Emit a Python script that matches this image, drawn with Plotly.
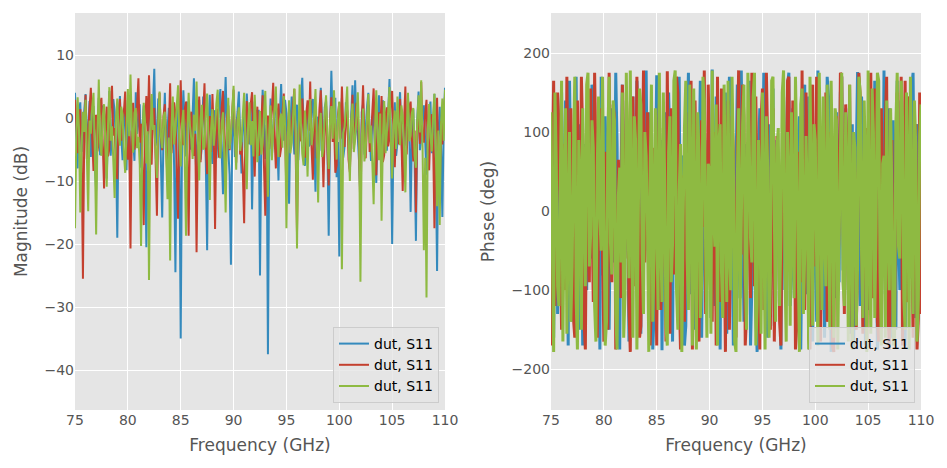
import numpy as np
import plotly.graph_objects as go

freq_ghz = list(np.linspace(75, 110, 281))

mag_blue = [
    4.0, -2.1, -8.0, 0.9, 2.5, -5.4, -3.1, 1.2, 3.8, -4.0, -1.5, 2.7, -6.2, -0.8, 1.9, -7.3, -11.5, -1.0, 3.2, -5.9,
    -4.8, 2.0, 0.6, -3.4, -9.6, -1.8, 4.3, -6.0, -2.2, 3.0, 1.1, -4.6, -19.0, -0.2, 3.5, -2.9, -6.7, 1.5, 0.4, -8.3,
    2.8, -3.7, -12.4, 0.1, -3.3, -6.8, 4.1, -2.5, -0.7, 2.2, -7.9, -1.3, 2.0, -5.1, -20.5, -4.2, 3.6, 0.3, -5.4, 1.8,
    7.8, -4.4, -2.6, 3.1, 1.3, -6.9, -15.8, -2.0, 4.0, -5.5, -1.8, 1.6, -9.2, -3.0, 2.4, -7.6, -24.5, -1.5, 3.3, -4.9,
    -35.0, -2.7, 4.4, -1.2, -6.1, 2.6, 1.7, -5.0, -3.9, 0.5, 6.3, -3.6, -10.8, -0.4, 2.9, -6.6, -4.6, 3.4, 0.9, -7.0,
    -21.0, -1.9, 3.7, -4.1, -7.3, 0.8, 1.2, -6.4, -2.9, 2.1, 4.6, -5.3, -12.1, 0.0, 6.5, -2.2, -5.0, -9.0, -23.3, -3.1,
    2.2, -6.2, -1.4, 1.0, 4.2, -3.0, -8.8, -1.6, 0.3, -4.7, 3.9, -0.6, -4.2, 2.4, -14.5, -2.8, 2.6, -5.7, -0.9, 1.3,
    -25.0, -3.5, 4.5, -0.3, -6.5, -1.1, -37.5, -4.8, 3.1, -6.1, -2.0, 2.0, 1.6, -3.3, -9.9, 0.6, 5.4, -1.7, -3.6, 2.9,
    0.8, -5.6, -13.6, -0.9, 3.4, -2.3, -5.8, 1.4, 2.1, -6.7, -1.1, 3.5, 6.4, -2.6, -7.6, 0.2, 1.5, -4.5, -4.1, 2.3,
    3.0, -3.9, -11.7, -1.4, 0.2, -5.2, 4.8, -0.5, -6.9, 1.7, 2.7, -4.3, -18.7, -2.1, 7.5, -1.0, -2.4, 3.2, -9.4, -3.8,
    -22.0, -0.7, 3.2, -6.3, -4.5, 2.5, 1.0, -2.7, -8.1, 0.4, 5.2, -4.0, 6.0, -1.5, -3.0, -7.1, -12.8, 0.9, 2.3, -5.8,
    -1.7, 1.8, 4.0, -2.4, -6.8, -0.1, 0.7, -4.6, -10.3, -1.2, 3.6, -5.5, -2.8, 2.8, 1.9, -3.2, -5.2, 0.6, 6.2, -2.0,
    -20.0, -3.4, 2.5, -6.0, -4.0, 1.1, 4.1, -2.9, -7.7, -0.8, 0.5, -4.4, 3.3, -1.6, -14.9, -2.3, 1.4, -6.5, -19.5, -0.3,
    4.2, -5.1, -3.4, 0.4, 2.0, -3.7, -9.0, -1.0, 0.9, 2.6, -5.6, -2.2, 3.8, -6.6, -24.3, -3.0, 1.8, -4.8, -15.7, -1.3,
    4.8]

mag_red = [
    2.9, -1.0, -5.6, 0.2, 1.4, -4.7, -25.5, -2.4, 3.7, -6.5, -2.3, 1.6, 4.8, -3.2, -8.4, -0.6, 0.5, -5.3, -3.7, 2.1,
    3.2, -4.0, -11.2, -1.3, 1.8, -6.1, -4.9, 2.3, 5.1, -2.8, -1.6, -7.2, -9.7, 0.7, 3.0, -3.6, -0.4, 1.0, 4.2, -5.7,
    -6.6, -2.0, -20.7, -0.2, 2.4, -5.0, -3.2, 1.9, 6.3, -3.9, -0.9, -8.0, -17.0, -1.5, 3.5, -2.6, 6.8, -1.1, -7.4, 0.9,
    1.6, -6.7, -15.5, -0.5, 4.0, -3.0, -5.1, 0.4, 2.2, -4.2, -10.4, -1.8, 5.5, -5.6, -2.7, 2.5, 0.8, -7.8, -16.0, -2.2,
    6.0, -3.4, -4.3, 1.3, 2.6, -6.9, -18.7, -0.8, 1.0, -3.1, -6.0, -2.5, -21.3, -4.4, 3.4, -7.0, -1.9, 0.3, 5.5, -4.8,
    -8.9, -1.2, 0.3, -5.4, 3.8, -2.1, -17.6, -0.9, 1.5, -6.3, -4.4, 1.7, 4.3, -3.3, -10.2, -0.1, 2.0, -5.1, -2.5, 1.1,
    4.5, -2.7, -7.1, -0.3, 1.1, -5.8, -3.8, -8.5, -16.7, -1.4, 2.7, -4.1, -0.6, 2.2, 4.1, -3.6, -9.3, -0.7, 1.8, -6.0,
    -5.3, -0.5, 3.6, -7.5, -15.5, -2.3, 0.4, -4.9, -2.1, 1.4, 5.6, -3.0, -8.0, -0.2, 2.3, -6.2, -4.7, 0.8, 3.9, -2.5,
    -12.3, -1.7, 1.2, -4.3, -1.3, 2.0, 4.6, -5.5, -18.1, -2.9, 0.1, -3.7, 3.1, -1.0, -6.3, 0.6, 2.8, -2.0, 5.8, -4.6,
    -9.8, -0.8, 0.7, -6.4, -3.5, 1.5, 4.4, -2.4, -11.0, -1.9, 1.9, -5.0, -10.7, -0.6, 3.3, -3.8, -0.3, -8.7, -7.5, 0.5,
    2.5, -3.3, 5.0, -1.6, -4.6, -0.4, 1.3, -6.6, -8.6, -2.1, 3.7, -4.9, -1.5, 2.4, 0.6, -5.2, -15.1, -1.2, 5.2, -3.5,
    -6.4, -0.9, 2.1, -5.4, -2.9, 1.0, 4.7, -3.9, -9.1, -0.3, 0.9, -2.6, 3.5, -7.0, -5.9, 0.4, 1.7, -4.5, -3.1, 2.6,
    4.3, -2.3, -7.8, -1.1, 0.2, -4.2, 3.0, -3.1, -11.6, -0.7, 5.0, -5.8, -1.0, 1.8, 2.6, -3.4, -6.9, -2.0, -15.0, -1.8,
    1.5, -4.1, 5.7, -2.7, -3.9, 0.7, 2.9, -5.6, -8.3, -1.0, 0.6, -3.5, -17.5, -2.2, 3.2, -6.8, -12.0, -0.5, -4.2, 1.0,
    3.4]

mag_green = [
    -17.5, -3.0, 3.3, -1.8, -15.0, -4.6, 1.0, -2.2, 2.9, -6.3, -14.8, -0.4, -2.5, 1.7, 4.0, -5.1, -18.5, -2.7, 6.1, -3.8,
    -6.0, 0.3, 2.2, -4.5, -10.9, -1.0, 4.9, -3.6, -1.3, -6.8, -12.7, -0.2, 3.1, -2.4, -4.4, 1.8, 0.6, -5.5, -8.7, -1.6,
    4.6, -2.9, 6.9, -1.4, -5.5, 0.8, 1.6, -4.8, -3.0, -7.4, -20.3, -3.3, 2.4, -0.6, -7.2, -2.1, -25.7, -4.0, 3.8, -1.9,
    -1.1, -5.3, -9.5, -0.7, 4.2, -2.8, -4.8, 0.2, 1.0, -6.0, -12.9, -3.1, -22.6, -1.5, 3.4, -4.2, -2.0, 1.9, 5.2, -3.7,
    -7.7, -0.8, 1.3, -5.9, -18.7, -2.6, 4.0, -1.2, -3.3, -6.5, 0.5, -2.0, 5.8, -3.4, -9.9, -0.1, 2.1, -5.0, -4.6, 0.9,
    3.9, -3.2, -13.0, -1.7, 1.4, -4.4, -1.8, 2.3, 4.5, -2.4, -6.4, -0.9, 0.9, -5.7, -15.0, -2.3, 3.2, -4.9, -2.6, 1.2,
    5.1, -2.5, -8.2, -0.4, 1.7, -5.2, -3.6, 0.6, 4.0, -3.9, -11.3, -1.1, 2.5, -4.3, -0.5, -6.1, 3.7, -1.8, -7.0, -2.7,
    1.1, -5.8, -4.0, 0.5, 4.3, -3.5, -12.5, -2.0, 2.0, -6.7, -1.6, 1.5, 5.0, -2.9, -6.2, -0.3, 0.7, -4.7, 3.5, -1.3,
    -17.5, -3.6, 2.8, -5.6, -3.9, 0.1, 4.7, -2.2, -20.7, -4.1, 5.3, -1.0, -5.7, -7.5, 1.2, -2.6, -9.3, -0.5, 3.0, -4.3,
    -2.2, 0.4, 4.6, -3.0, -13.4, -1.4, 0.8, -6.2, -4.9, 1.0, 3.6, -2.8, -8.1, -0.7, 1.9, -3.3, 4.4, -1.5, -6.6, -0.2,
    2.6, -4.5, -24.0, -2.4, -1.4, 1.6, 5.0, -3.8, -10.0, -0.6, 2.3, -5.4, -3.4, 0.3, 4.1, -2.7, -26.0, -3.5, 1.5, -6.9,
    -5.0, -0.1, 3.8, -4.0, -1.2, -7.1, -13.7, -1.9, 4.4, -2.5, -6.7, 0.7, -16.3, -3.2, 2.7, -5.6, -2.3, 1.1, 4.9, -3.1,
    -9.6, -1.3, 1.2, -4.9, 3.4, -0.8, -4.3, 2.0, 0.4, -5.0, -11.8, -2.1, 4.0, -3.7, -2.8, 0.9, 1.6, -6.0, -7.9, -0.4,
    3.6, -2.3, 6.0, -4.4, -21.0, -6.3, -28.5, -1.7, 2.2, -3.0, -5.3, 0.5, 3.9, -4.8, -14.0, -2.0, -17.0, -0.9, 3.1, -3.6,
    4.5]

phase_blue = [
    68, -45, -160, 30, 120, -130, -35, 95, 150, -10, -95, 140, 20, -170, 165, 50, -140, -60, 75, 170,
    -10, -150, 110, 0, -170, 85, 40, -100, 135, 25, -60, 160, 95, -20, -125, 60, 5, -175, 170, -75,
    -85, 120, 55, -115, -150, 10, 130, -65, -20, 175, 85, -135, -175, 45, 160, -90, -45, 140, 15, -165,
    -110, 70, 145, -30, -70, 165, 100, -140, -155, 80, 30, -50, 178, 5, -90, 125, 60, -175, -130, 35,
    172, -120, -5, 90, -176, 40, 125, -80, -40, 150, 80, -15, -165, 110, 155, -55, 10, 170, -100, 65,
    70, -170, -145, 100, 175, -105, -25, 55, 115, -150, -80, 20, 45, 165, -160, -5, 140, -115, -55, 90,
    25, -135, 179, 35, -120, 145, 90, -40, -175, 75, 0, -95, 150, -155, -65, 170, 105, -25, -170, 60,
    50, 160, -35, -110, 178, 0, -140, 40, 85, -60, 165, -170, -95, 120, 15, -130, -178, 70, 130, -15,
    -50, 175, 100, -85, -160, 110, 35, -20, 155, -145, -115, 90, 65, -40, -175, 20, 140, -100, -15, 160,
    175, -120, -85, 130, 40, -10, -150, 80, 120, -175, -30, 55, 160, -70, -105, 145, 75, -45, -165, 105,
    5, -140, 178, 60, -130, 15, 95, -160, -60, 170, 145, -20, -178, 85, 20, -110, 125, 45, -90, 150,
    170, -75, -40, 130, 55, -100, -155, 25, 110, -175, -10, 65, 176, -50, -120, 145, 80, -25, -170, 100,
    35, -125, 150, 5, -75, 165, 100, -175, -145, 90, 60, -55, 178, -105, -25, 40, 130, -80, -160, 115,
    15, -150, 165, -30, -100, 140, 45, -165, -170, 70, 120, -85, -55, 155, 175, -10, -135, 110, 90, -60,
    -125]

phase_red = [
    -170, 40, 165, -120, -30, 150, 110, -5, -150, 85, 60, -100, 170, 20, -80, 130, 25, -135, -160, 95,
    140, -70, -45, 170, 95, -140, -175, 55, 15, -90, 155, 0, -115, 175, 70, -160, -20, 110, 130, -55,
    -165, 75, 40, -150, 175, -15, -90, 135, 120, -175, -135, 65, 10, -110, 160, -30, -60, 150, 85, -125,
    -178, 20, 145, -95, -25, 170, 65, -160, -145, 45, 178, -65, -5, 125, 100, -170, -120, 80, 50, -35,
    -170, 60, 135, -125, -70, 105, 20, -165, 177, 0, -155, 130, 90, -80, -35, 170, 150, -100, -175, 30,
    45, -140, 125, 15, -100, 75, 165, -175, -50, 140, 5, -75, -165, 40, 115, -20, 178, -130, -85, 160,
    60, -45, -140, 100, 30, -170, 170, -60, -115, 155, 95, -25, -178, 50, 140, -150, -10, 120, 75, -95,
    -160, 85, 178, -15, -55, 160, 120, -170, -130, 70, 40, -110, 175, 5, -95, 145, 10, -60, -175, 115,
    155, -125, -40, 175, 85, -80, -150, 25, 130, -165, -20, 95, 65, -140, -170, 50, 145, -10, -110, 165,
    170, -30, -65, 140, 100, -175, -145, 75, 25, -90, 178, -45, -125, 150, 55, -160, -175, 10, 160, -70,
    -30, 170, 115, -120, -165, 30, 80, -50, 150, -140, -90, 100, 35, -170, -178, 65, 120, -95, -15, 175,
    170, -5, -130, 135, 70, -100, 160, -40, -170, 90, 45, -150, -60, 175, 145, -20, -155, 60, 105, -175,
    -5, 125, 175, -85, -110, 155, 60, -140, -165, 20, 130, -70, -45, 110, 170, -125, -175, 35, 90, -155,
    -140, 75, 150, -40, 20, 170, -170, 50, 165, -115, -80, 145, 140, -15, -160, 100, 110, -175, -135, 150,
    -130]

phase_green = [
    125, -40, -178, 150, 60, -95, -120, 30, 165, -165, 15, 130, -155, -20, 100, -140, -70, 75, 170, -110,
    -175, 90, 40, -150, 130, 10, -95, 160, 175, -70, -30, 115, 80, -120, -165, 55, 145, -10, -50, 170,
    10, -170, -140, 95, 170, -40, -80, 140, 115, -130, -175, 20, 55, -65, 150, -160, -105, 175, 25, -85,
    178, 5, -160, 120, 90, -175, -20, 155, 135, -55, -130, 100, 70, -15, -178, 45, 160, -140, -60, 130,
    -5, -125, 175, -35, -115, 150, 45, -145, -170, 75, 120, -90, -40, 165, 178, -100, -150, 25, 85, -178,
    -10, 105, 165, -60, -125, 160, 35, -170, 155, -25, -175, 125, 75, -135, -90, 170, 140, -45, -160, 60,
    50, -155, 178, 0, -45, 135, -170, 85, 110, -75, -135, 160, 20, -115, 165, -50, -100, 170, 65, -165,
    -178, 40, 130, -140, -15, 110, 160, -80, -150, 175, 95, -35, -65, 145, 175, -170, -120, 90, 30, -155,
    150, 15, -175, 120, 55, -160, -85, 165, 170, -5, -140, 80, 105, -120, -30, 150, 178, -70, -165, 100,
    40, -145, 125, -20, -110, 170, 75, -60, -178, 135, 155, -130, -55, 95, 10, -175, 170, 35, -145, 110,
    90, -60, -170, 175, 60, -125, 145, -25, -95, 160, 20, -150, 165, 50, -160, 130, 115, -175, -40, 70,
    175, -90, -120, 125, 35, -165, 160, -10, -175, 100, 80, -145, -70, 170, 150, -50, -135, 140, 50, -178,
    178, -30, -155, 155, 100, -135, -25, 175, 165, -75, -170, 60, 70, -160, 140, -15, -100, 130, 15, -170,
    -160, 110, 175, -45, -60, 165, 120, -110, -150, 150, 45, -175, 170, -20, -130, 140, 85, -165, -110, 95,
    135]

series_name = "dut, S11"
colors = ["#348ABD", "#C4402F", "#8EBA42"]

FONT = "DejaVu Sans"
fig = go.Figure()

for mag, col in zip([mag_blue, mag_red, mag_green], colors):
    fig.add_trace(go.Scatter(x=freq_ghz, y=mag, mode="lines", name=series_name,
                             line=dict(color=col, width=2.0, simplify=False),
                             xaxis="x", yaxis="y", legend="legend"))
for ph, col in zip([phase_blue, phase_red, phase_green], colors):
    fig.add_trace(go.Scatter(x=freq_ghz, y=ph, mode="lines", name=series_name,
                             line=dict(color=col, width=3.0, simplify=False),
                             xaxis="x2", yaxis="y2", showlegend=False))
# legend entries for the phase panel, drawn with the normal line width
for col in colors:
    fig.add_trace(go.Scatter(x=[None], y=[None], mode="lines", name=series_name,
                             line=dict(color=col, width=2.0),
                             xaxis="x2", yaxis="y2", legend="legend2"))

W, H = 947, 468
ax_common = dict(showgrid=True, gridcolor="white", gridwidth=1.2, zeroline=False,
                 showline=False, ticks="", automargin=False,
                 tickfont=dict(family=FONT, size=14, color="#555555"),
                 title_font=dict(family=FONT, size=17, color="#555555"))

fig.update_layout(
    width=W, height=H, margin=dict(l=0, r=0, t=0, b=0),
    paper_bgcolor="white", plot_bgcolor="#E5E5E5",
    font=dict(family=FONT, color="#555555"),
    xaxis=dict(domain=[75 / W, 445 / W], range=[75, 110], anchor="y",
               tickvals=[75, 80, 85, 90, 95, 100, 105, 110],
               title=dict(text="Frequency (GHz)", standoff=12), **ax_common),
    yaxis=dict(domain=[1 - 410 / H, 1 - 13 / H], range=[-46.35, 16.67], anchor="x",
               tickvals=[-40, -30, -20, -10, 0, 10],
               ticktext=["\u221240", "\u221230", "\u221220", "\u221210", "0", "10"],
               title=dict(text="Magnitude (dB)", standoff=12), **ax_common),
    xaxis2=dict(domain=[551 / W, 921 / W], range=[75, 110], anchor="y2",
                tickvals=[75, 80, 85, 90, 95, 100, 105, 110],
                title=dict(text="Frequency (GHz)", standoff=12), **ax_common),
    yaxis2=dict(domain=[1 - 410 / H, 1 - 13 / H], range=[-251.5, 250.6], anchor="x2",
                tickvals=[-200, -100, 0, 100, 200],
                ticktext=["\u2212200", "\u2212100", "0", "100", "200"],
                title=dict(text="Phase (deg)", standoff=12), **ax_common),
    legend=dict(x=439 / W, y=1 - 403 / H, xanchor="right", yanchor="bottom",
                bgcolor="rgba(229,229,229,0.8)", bordercolor="#CCCCCC", borderwidth=1,
                font=dict(family=FONT, size=14, color="black"), tracegroupgap=0),
    legend2=dict(x=915 / W, y=1 - 403 / H, xanchor="right", yanchor="bottom",
                 bgcolor="rgba(229,229,229,0.8)", bordercolor="#CCCCCC", borderwidth=1,
                 font=dict(family=FONT, size=14, color="black"), tracegroupgap=0),
    showlegend=True,
)

fig.write_html("out.html")
